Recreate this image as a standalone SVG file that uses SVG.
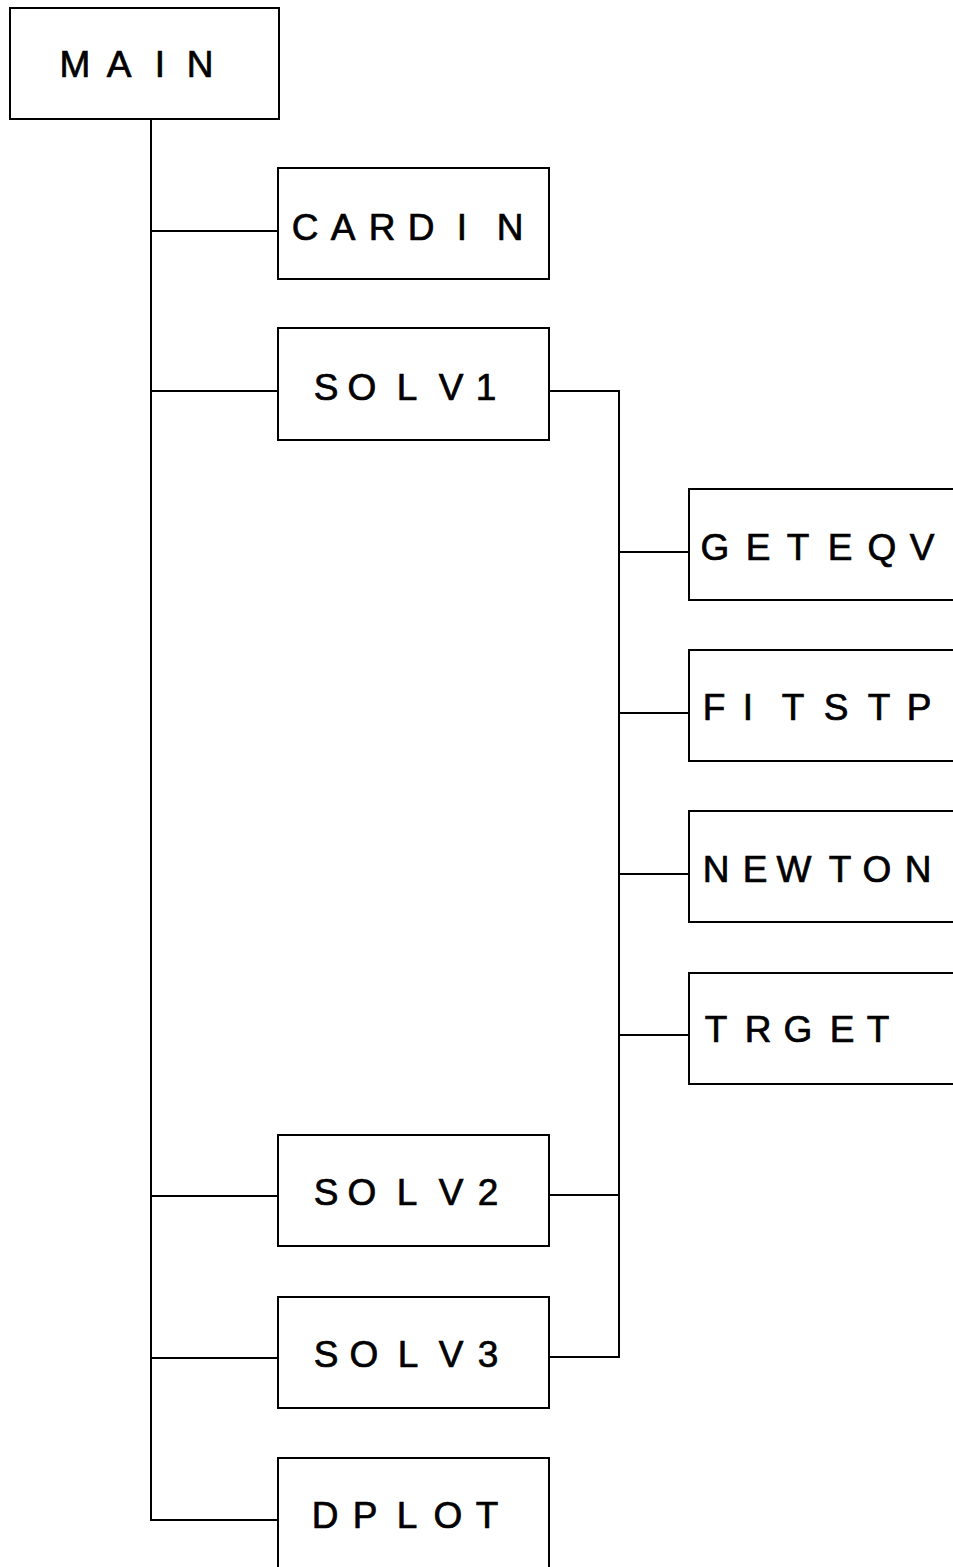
<svg xmlns="http://www.w3.org/2000/svg" width="953" height="1567" viewBox="0 0 953 1567">
<style>
.box{fill:#fff;stroke:#000;stroke-width:2}
.lbl{font-family:"Liberation Sans",Arial,sans-serif;font-size:37px;fill:#000;stroke:#000;stroke-width:0.7;text-anchor:middle}
.ln{fill:none;stroke:#000;stroke-width:2}
</style>
<rect width="953" height="1567" fill="#fff"/>
<g id="connectors">
<path class="ln" d="M151 119 V1520 H278"/>
<path class="ln" d="M151 231 H278 M151 391 H278 M151 1196 H278 M151 1358 H278"/>
<path class="ln" d="M549 391 H619 V1357 H549 M549 1195 H619"/>
<path class="ln" d="M619 552 H689 M619 713 H689 M619 874 H689 M619 1035 H689"/>
</g>
<g id="MAIN"><rect class="box" x="10" y="8" width="269" height="111"/><text class="lbl" x="75 119 160 200" y="77">MAIN</text></g>
<g id="CARDIN"><rect class="box" x="278" y="168" width="271" height="111"/><text class="lbl" x="305 343 382 421 462 510" y="240">CARDIN</text></g>
<g id="SOLV1"><rect class="box" x="278" y="328" width="271" height="112"/><text class="lbl" x="326 362 407 451 486" y="400">SOLV1</text></g>
<g id="GETEQV"><rect class="box" x="689" y="489" width="300" height="111"/><text class="lbl" x="715 758 798 840 882 922" y="560">GETEQV</text></g>
<g id="FITSTP"><rect class="box" x="689" y="650" width="300" height="111"/><text class="lbl" x="714 748 793 836 879 919" y="720">FITSTP</text></g>
<g id="NEWTON"><rect class="box" x="689" y="811" width="300" height="111"/><text class="lbl" x="716 755 794 840 877 918" y="882">NEWTON</text></g>
<g id="TRGET"><rect class="box" x="689" y="973" width="300" height="111"/><text class="lbl" x="716 758 798 842 878" y="1042">TRGET</text></g>
<g id="SOLV2"><rect class="box" x="278" y="1135" width="271" height="111"/><text class="lbl" x="326 362 407 451 488" y="1205">SOLV2</text></g>
<g id="SOLV3"><rect class="box" x="278" y="1297" width="271" height="111"/><text class="lbl" x="326 364 408 451 488" y="1367">SOLV3</text></g>
<g id="DPLOT"><rect class="box" x="278" y="1458" width="271" height="130"/><text class="lbl" x="325 365 407 448 487" y="1528">DPLOT</text></g>
</svg>
